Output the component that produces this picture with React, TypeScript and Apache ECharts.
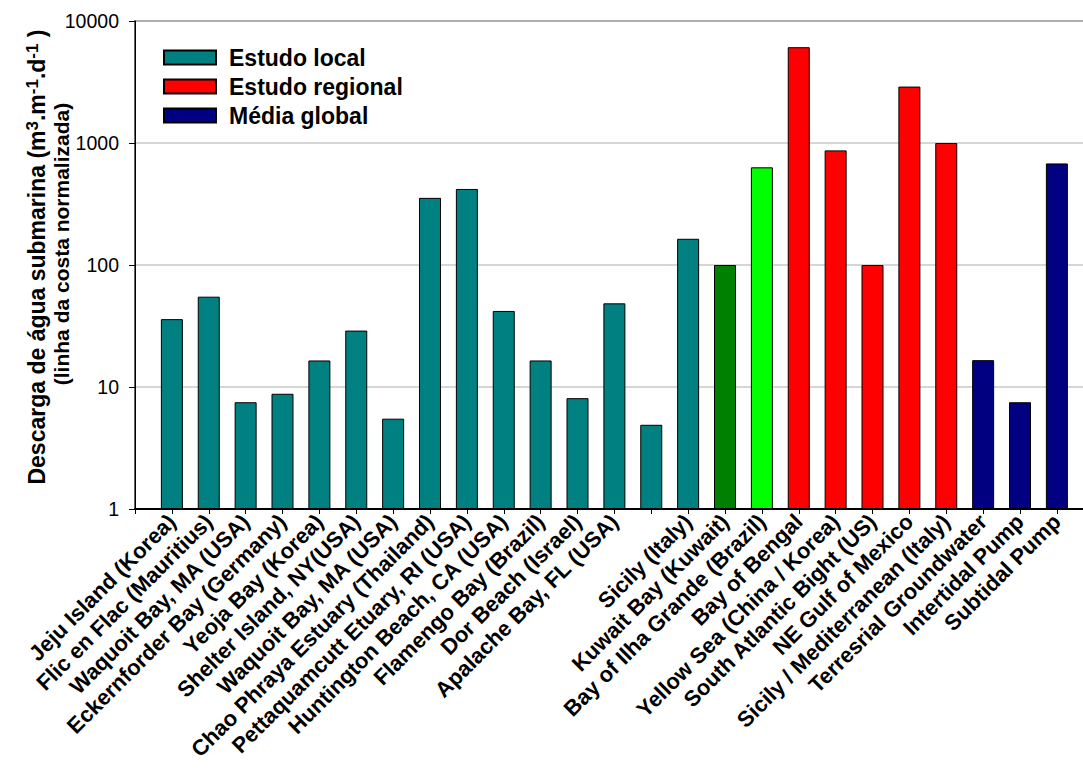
import React, { useEffect, useRef } from "react";
import * as echarts from "echarts";

const categories = [
  "Jeju Island (Korea)",
  "Flic en Flac (Mauritius)",
  "Waquoit Bay, MA (USA)",
  "Eckernforder Bay (Germany)",
  "Yeoja Bay (Korea)",
  "Shelter Island, NY(USA)",
  "Waquoit Bay, MA (USA)",
  "Chao Phraya Estuary (Thailand)",
  "Pettaquamcutt Etuary, RI (USA)",
  "Huntington Beach, CA (USA)",
  "Flamengo Bay (Brazil)",
  "Dor Beach (Israel)",
  "Apalache Bay, FL (USA)",
  "",
  "Sicily (Italy)",
  "Kuwait Bay (Kuwait)",
  "Bay of Ilha Grande (Brazil)",
  "Bay of Bengal",
  "Yellow Sea (China / Korea)",
  "South Atlantic Bight (US)",
  "NE Gulf of Mexico",
  "Sicily / Mediterranean (Italy)",
  "Terresrial Groundwater",
  "Intertidal Pump",
  "Subtidal Pump",
];

// Estudo local (first 17 categories)
const localValues = [36, 55, 7.5, 8.8, 16.5, 29, 5.5, 355, 420, 42, 16.5, 8.1, 48.5, 4.9, 164, 100, 632];
const localColors = [
  "#008080", "#008080", "#008080", "#008080", "#008080", "#008080", "#008080", "#008080",
  "#008080", "#008080", "#008080", "#008080", "#008080", "#008080", "#008080", "#008000", "#00ff00",
];
// Estudo regional (next 5)
const regionalValues = [6100, 870, 100, 2900, 1000];
// Média global (last 3)
const globalValues = [16.6, 7.5, 680];

const yTicks = [1, 10, 100, 1000, 10000];

const seriesNames = ["Estudo local", "Estudo regional", "Média global"];
const seriesColors = ["#008080", "#ff0000", "#000080"];

export default function App() {
  const ref = useRef<HTMLDivElement>(null);

  useEffect(() => {
    if (!ref.current) return;
    const chart = echarts.init(ref.current, undefined, { renderer: "svg" });

    const n = categories.length;
    // pad one empty slot on each side of the category axis
    const axisData = ["", ...categories, ""];
    const pad = (arr: any[]) => [null, ...arr, null];

    const localData: any[] = new Array(n).fill(null);
    localValues.forEach((v, i) => {
      localData[i] = { value: v, itemStyle: { color: localColors[i] } };
    });
    const regionalData: any[] = new Array(n).fill(null);
    regionalValues.forEach((v, i) => {
      regionalData[localValues.length + i] = v;
    });
    const globalData: any[] = new Array(n).fill(null);
    globalValues.forEach((v, i) => {
      globalData[localValues.length + regionalValues.length + i] = v;
    });

    const font = "Arial, 'Liberation Sans', sans-serif";
    const seriesData = [localData, regionalData, globalData];

    chart.setOption({
      animation: false,
      backgroundColor: "#ffffff",
      grid: {
        left: 135,
        top: 21,
        width: 958.75,
        height: 488,
        show: true,
        borderColor: "#333333",
        borderWidth: 1.5,
        backgroundColor: "transparent",
        containLabel: false,
        outerBoundsMode: "none",
      },
      legend: {
        orient: "vertical",
        left: 163,
        top: 46,
        padding: 0,
        itemWidth: 52,
        itemHeight: 14,
        itemGap: 6,
        icon: "rect",
        data: seriesNames,
        textStyle: {
          fontFamily: font,
          fontWeight: "bold",
          fontSize: 23,
          color: "#000",
          padding: [0, 0, 0, 8],
        },
      },
      xAxis: {
        type: "category",
        data: axisData,
        boundaryGap: false,
        axisLine: { lineStyle: { color: "#000", width: 2 } },
        axisTick: { show: true, length: 5, lineStyle: { color: "#000", width: 1 }, interval: 0 },
        axisLabel: {
          interval: 0,
          rotate: 45,
          margin: 9,
          fontFamily: font,
          fontWeight: "bold",
          fontSize: 22,
          color: "#000",
        },
        splitLine: { show: false },
      },
      yAxis: {
        type: "log",
        logBase: 10,
        min: yTicks[0],
        max: yTicks[yTicks.length - 1],
        axisLine: { show: true, lineStyle: { color: "#000", width: 1 } },
        axisTick: { show: true, length: 6, lineStyle: { color: "#000", width: 1 } },
        minorTick: { show: false },
        axisLabel: {
          margin: 16,
          fontFamily: font,
          fontSize: 19.5,
          color: "#000",
          formatter: (v: number) => String(Math.round(v)),
        },
        splitLine: { show: true, lineStyle: { color: "#c8c8c8", width: 1.5 } },
      },
      graphic: [
        {
          type: "text",
          x: 37,
          y: 257,
          rotation: Math.PI / 2,
          style: {
            text: "{a|Descarga de água submarina (m}{s|3}{a|.m}{s|-1}{a|.d}{s|-1}{a| )}",
            align: "center",
            verticalAlign: "middle",
            textAlign: "center",
            textVerticalAlign: "middle",
            fill: "#000",
            rich: {
              a: { fontFamily: font, fontWeight: "bold", fontSize: 23, fill: "#000", color: "#000", lineHeight: 26 },
              s: { fontFamily: font, fontWeight: "bold", fontSize: 17, fill: "#000", color: "#000", verticalAlign: "top", lineHeight: 26 },
            },
          },
        },
        {
          type: "text",
          x: 61,
          y: 244,
          rotation: Math.PI / 2,
          style: {
            text: "(linha da costa normalizada)",
            align: "center",
            verticalAlign: "middle",
            textAlign: "center",
            textVerticalAlign: "middle",
            fill: "#000",
            fontFamily: font,
            fontWeight: "bold",
            fontSize: 21,
          },
        },
      ],
      series: seriesNames.map((name, k) => ({
        name,
        type: "bar",
        barWidth: 22,
        barGap: "-100%",
        data: pad(seriesData[k]),
        itemStyle: { color: seriesColors[k], borderColor: "#000", borderWidth: 1 },
        emphasis: { disabled: true },
      })),
    });

    return () => chart.dispose();
  }, []);

  return (
    <div
      ref={ref}
      style={{ position: "absolute", left: 0, top: 0, width: 1083, height: 770 }}
    />
  );
}
